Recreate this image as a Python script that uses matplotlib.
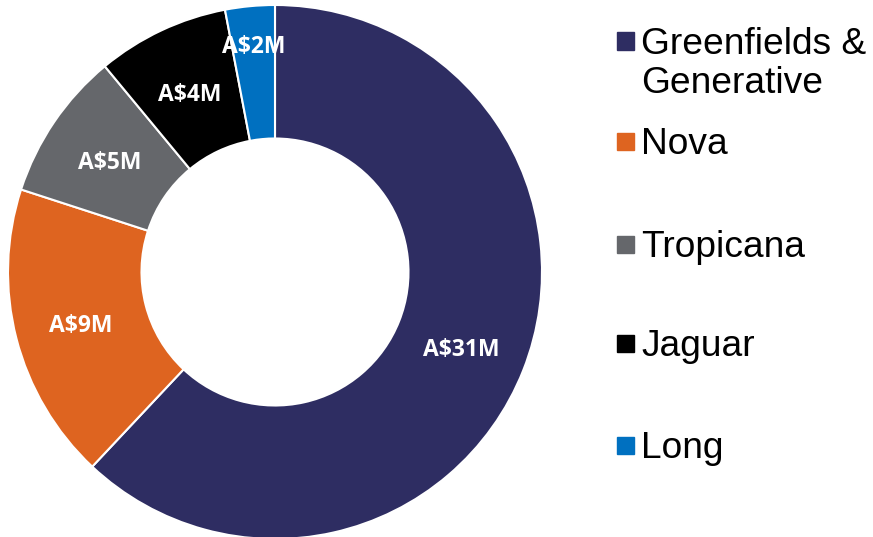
import numpy as np
import matplotlib.pyplot as plt
import matplotlib.transforms as mtrans
from matplotlib.patches import Rectangle

# data (A$M)
projects = ['Greenfields &\nGenerative', 'Nova', 'Tropicana', 'Jaguar', 'Long']
spend = [31, 9, 4.5, 4.0, 1.5]
value_labels = ['A$31M', 'A$9M', 'A$5M', 'A$4M', 'A$2M']
colors = ['#2E2D62', '#DE6420', '#65676B', '#000000', '#0070C0']

W, H = 873, 537
fig = plt.figure(figsize=(W / 100, H / 100), dpi=100)

# donut centre ~ (275, 272) px, outer radius ~267 px
cx, cy, R = 275, 272, 267
ax = fig.add_axes([(cx - R) / W, (H - cy - R) / H, 2 * R / W, 2 * R / H])
wedges, _ = ax.pie(spend, colors=colors, startangle=90, counterclock=False,
                   wedgeprops=dict(width=0.5, edgecolor='white', linewidth=1.5))
ax.set_xlim(-1, 1)
ax.set_ylim(-1, 1)
ax.set_aspect('equal')
ax.axis('off')

# value labels sit mid-ring, the small Long label pushed outward
label_r = [0.75, 0.75, 0.75, 0.75, 0.86]
shift = ax.transData + mtrans.ScaledTranslation(0, -0.04, fig.dpi_scale_trans)
for w, lab, r in zip(wedges, value_labels, label_r):
    ang = np.deg2rad((w.theta1 + w.theta2) / 2)
    ax.text(r * np.cos(ang), r * np.sin(ang), lab, ha='center', va='center',
            color='white', fontsize=16.5, fontweight='bold', family='Open Sans',
            transform=shift)

# legend drawn by hand to match spacing
marker_y = [41, 141, 244, 343, 445]
for name, col, my in zip(projects, colors, marker_y):
    fig.patches.append(Rectangle((617 / W, 1 - (my + 8.5) / H), 17 / W, 17 / H,
                                 transform=fig.transFigure, color=col))
    for k, line in enumerate(name.split('\n')):
        fig.text(641 / W, 1 - (my + 13 + 39 * k) / H, line, ha='left', va='baseline',
                 fontsize=26.7, family='Liberation Sans', color='black')

fig.savefig('out.png', dpi=100)
